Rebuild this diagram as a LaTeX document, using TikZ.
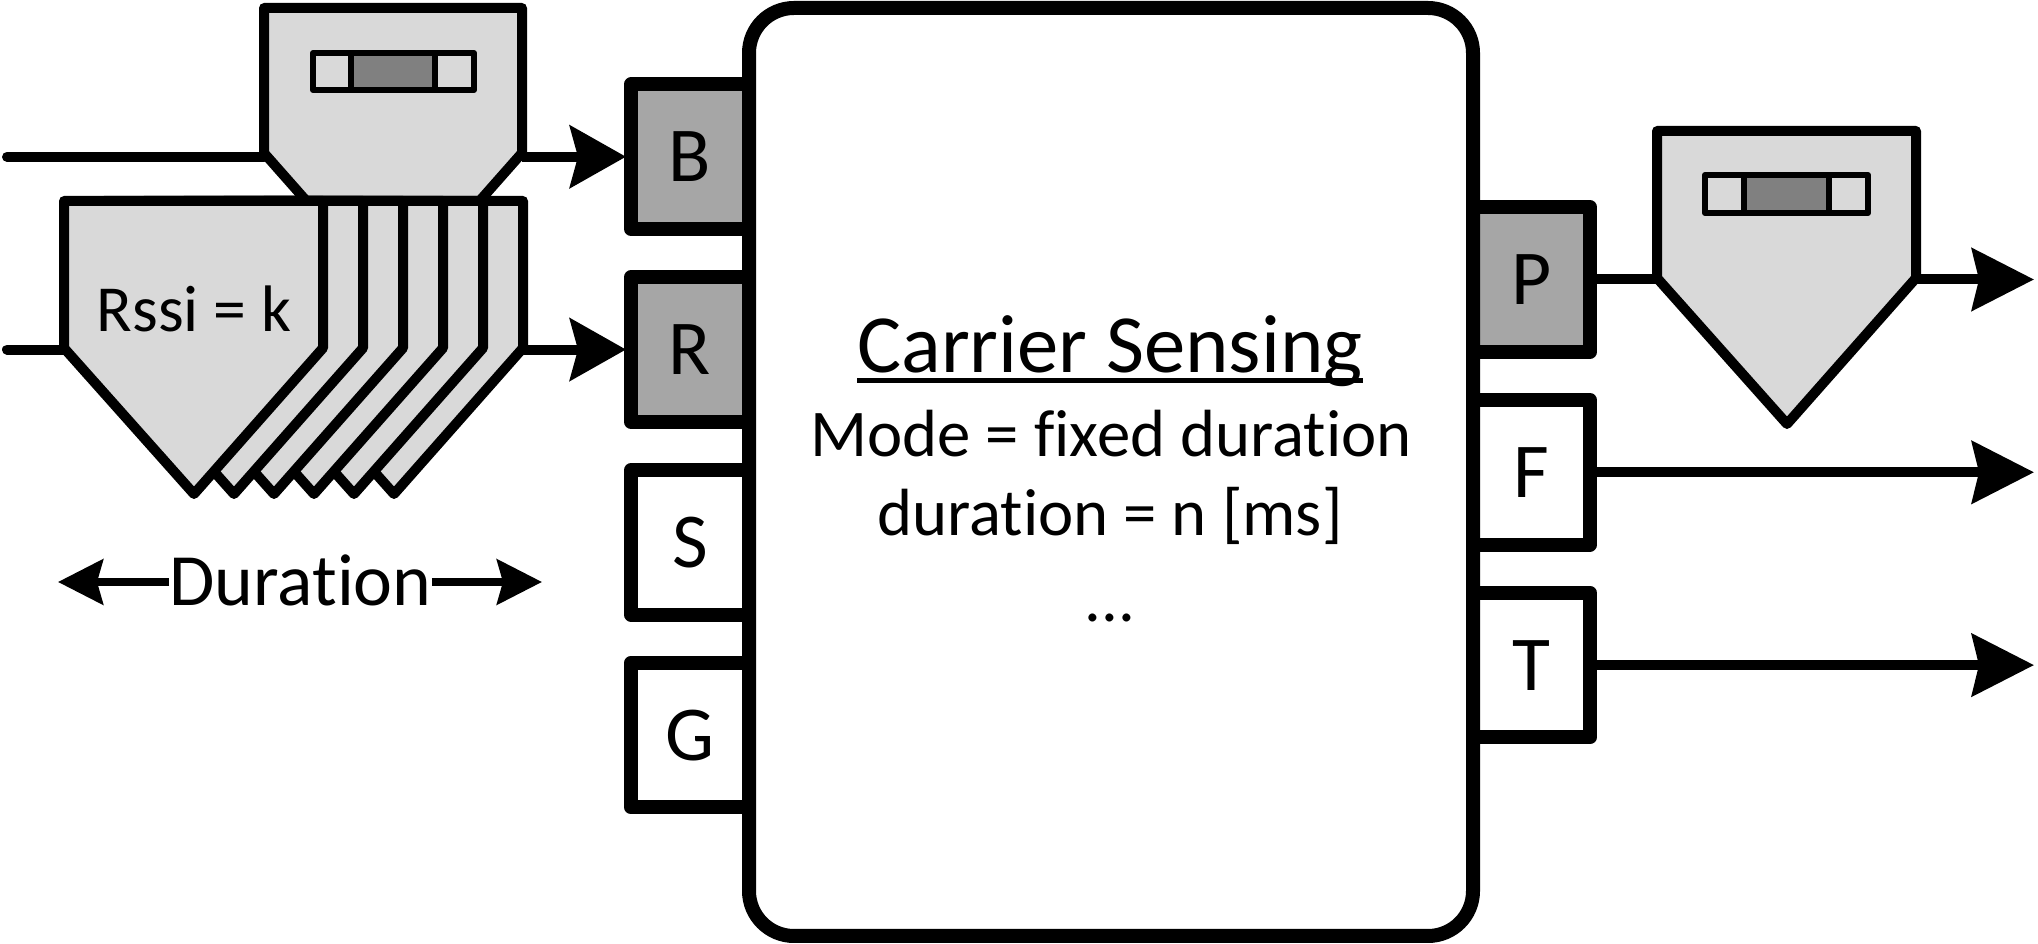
\documentclass[tikz,border=0pt]{standalone}
\usepackage{fontspec}
\setmainfont{Carlito}[Ligatures=CommonOff]
\usetikzlibrary{positioning,arrows.meta}
\definecolor{pktgray}{HTML}{D9D9D9}
\definecolor{portgray}{HTML}{A6A6A6}
\definecolor{slotgray}{HTML}{808080}
\tikzset{
  portbox/.style={draw,line width=14bp,line join=round,minimum width=118bp,minimum height=144.5bp,inner sep=0pt,text height=50bp,text depth=0bp,font=\fontsize{78}{90}\selectfont},
  mainbox/.style={draw,fill=white,line width=14bp,rounded corners=45bp,minimum width=724bp,minimum height=928bp},
  pkt/.style={draw,fill=pktgray,line width=10bp,line join=round},
  slot/.style={draw,line width=6bp,line join=round},
  wire/.style={line width=10bp},
  label/.style={inner sep=0pt,anchor=base},
}
\begin{document}
\begin{tikzpicture}[>={Stealth[length=56bp,width=62bp,inset=8bp]},line join=bevel,]
\useasboundingbox (0bp,0bp) rectangle (2038bp,944bp);
%% ports on the left and right of the block
\node (B) at (690bp,787.25bp) [portbox,fill=portgray] {B};
\node (R) at (690bp,594.45bp) [portbox,fill=portgray] {R};
\node (S) at (690bp,401.65bp) [portbox,fill=white] {S};
\node (G) at (690bp,208.85bp) [portbox,fill=white] {G};
\node (P) at (1531.5bp,664.5bp) [portbox,fill=portgray,minimum width=117bp] {P};
\node (F) at (1531.5bp,471.7bp) [portbox,fill=white,minimum width=117bp] {F};
\node (T) at (1531.5bp,278.9bp) [portbox,fill=white,minimum width=117bp] {T};
\node (block) at (1111bp,472bp) [mainbox] {};
%% text in the block
\node (title) at (1110bp,571bp) [label,font=\fontsize{83}{95}\selectfont] {Carrier Sensing};
\node (mode) at (1111bp,487bp) [label,font=\fontsize{67}{79}\selectfont] {Mode = fixed duration};
\node (dur) at (1110bp,408bp) [label,font=\fontsize{67}{79}\selectfont] {duration = n [ms]};
\node (dots) at (1110bp,322bp) [label,font=\fontsize{67}{79}\selectfont] {...};
\draw [line width=5bp] ([yshift=-8bp]title.base west) -- ([yshift=-8bp]title.base east);
%% beacon packet, top left
\coordinate (beaconin) at (264bp,787.25bp);
\coordinate (beaconout) at (522bp,787.25bp);
\coordinate (linestartB) at (7bp,787.25bp);
\draw [wire,line cap=round] (linestartB) -- (beaconin);
\draw [wire,->,shorten >=-2bp] (beaconout) -- (B);
\draw [pkt] (264bp,936bp) -- (522bp,936bp) -- (522bp,791bp) -- (393bp,645bp) -- (264bp,791bp) -- cycle;
\draw [slot,fill=pktgray] (313bp,891bp) rectangle (474bp,854bp);
\draw [slot,fill=slotgray] (351bp,891bp) rectangle (435bp,854bp);
%% stack of rssi packets, painted from the back
\coordinate (stackin) at (64bp,594.45bp);
\coordinate (stackout) at (523bp,594.45bp);
\coordinate (linestartR) at (7bp,594.45bp);
\draw [wire,line cap=round] (linestartR) -- (stackin);
\draw [wire,->,shorten >=-2bp] (stackout) -- (R);
\draw [pkt] (264bp,743bp) -- (523bp,743bp) -- (523bp,596bp) -- (394bp,450bp) -- (264bp,596bp) -- cycle;
\draw [pkt] (224bp,743bp) -- (483bp,743bp) -- (483bp,596bp) -- (354bp,450bp) -- (224bp,596bp) -- cycle;
\draw [pkt] (184bp,743bp) -- (443bp,743bp) -- (443bp,596bp) -- (314bp,450bp) -- (184bp,596bp) -- cycle;
\draw [pkt] (144bp,743bp) -- (403bp,743bp) -- (403bp,596bp) -- (274bp,450bp) -- (144bp,596bp) -- cycle;
\draw [pkt] (104bp,743bp) -- (363bp,743bp) -- (363bp,596bp) -- (234bp,450bp) -- (104bp,596bp) -- cycle;
\draw [pkt] (64bp,743bp) -- (323bp,743bp) -- (323bp,596bp) -- (194bp,450bp) -- (64bp,596bp) -- cycle;
\node (rssi) at (194bp,612bp) [label,font=\fontsize{66}{78}\selectfont] {Rssi = k};
%% duration arrows
\node (duration) at (300.5bp,338bp) [label,font=\fontsize{74}{86}\selectfont] {Duration};
\coordinate (durleft) at (58bp,362bp);
\coordinate (durright) at (542bp,362bp);
\draw [line width=8bp,-{Stealth[length=45bp,width=45bp,inset=6bp]}] (duration.west |- durleft) -- (durleft);
\draw [line width=8bp,-{Stealth[length=45bp,width=45bp,inset=6bp]}] (duration.east |- durright) -- (durright);
%% outgoing packet and arrows on the right
\coordinate (outpktin) at (1657bp,664.5bp);
\coordinate (outpktout) at (1916bp,664.5bp);
\coordinate (endP) at (2034bp,664.5bp);
\coordinate (endF) at (2034bp,471.7bp);
\coordinate (endT) at (2034bp,278.9bp);
\draw [wire] (P) -- (outpktin);
\draw [wire,-{Stealth[length=62bp,width=62bp,inset=7bp]}] (outpktout) -- (endP);
\draw [wire,-{Stealth[length=62bp,width=62bp,inset=7bp]}] (F) -- (endF);
\draw [wire,-{Stealth[length=62bp,width=62bp,inset=7bp]}] (T) -- (endT);
\draw [pkt] (1657bp,813bp) -- (1916bp,813bp) -- (1916bp,666bp) -- (1787bp,520bp) -- (1657bp,666bp) -- cycle;
\draw [slot,fill=pktgray] (1705bp,769bp) rectangle (1868bp,731bp);
\draw [slot,fill=slotgray] (1744bp,769bp) rectangle (1829bp,731bp);
%
\end{tikzpicture}
\end{document}
